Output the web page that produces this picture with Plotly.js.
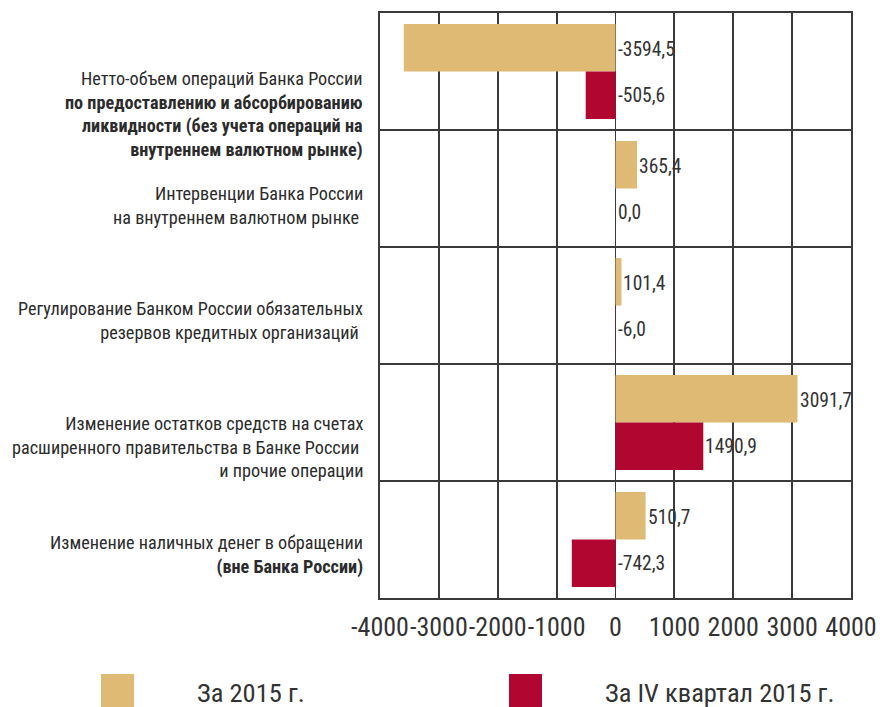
<!DOCTYPE html>
<html>
<head>
<meta charset="utf-8">
<script src="https://cdn.plot.ly/plotly-3.0.1.min.js"></script>
<style>
  body { margin: 0; background: #fff; }
  #chart { width: 880px; height: 707px; }
</style>
</head>
<body>
<div id="chart"></div>
<script>
// category labels (bold parts as in the original)
const categories = [
    'Нетто-объем операций Банка России<br><b>по предоставлению и абсорбированию</b><br><b>ликвидности (без учета операций на</b><br><b>внутреннем валютном рынке)</b>',
    'Интервенции Банка России<br>на внутреннем валютном рынке ',
    'Регулирование Банком России обязательных<br>резервов кредитных организаций ',
    'Изменение остатков средств на счетах<br>расширенного правительства в Банке России <br>и прочие операции',
    'Изменение наличных денег в обращении<br><b>(вне Банка России)</b>'
];
const values2015 = [-3594.5, 365.4, 101.4, 3091.7, 510.7];
const valuesQ4 = [-505.6, 0.0, -6.0, 1490.9, -742.3];
const seriesNames = ['За 2015 г.', 'За IV квартал 2015 г.'];
const xTicks = [-4000, -3000, -2000, -1000, 0, 1000, 2000, 3000, 4000];

const colors = ['#DEBA75', '#B00630'];
const fontFamily = '"Roboto Condensed", "Liberation Sans", sans-serif';
const lineColor = '#3a3a3a';

// plot box in pixels, used to place the legend and labels
const W = 880, H = 707;
const mL = 380, mR = 29, mT = 13, mB = 109;
const plotW = W - mL - mR, plotH = H - mT - mB;
function px(x) { return (x - mL) / plotW; }
function py(y) { return (H - mB - y) / plotH; }

const bargap = 0.19;
const half = (1 - bargap) / 4; // centre offset of each bar in a group

function fmt(v) {
    return v.toFixed(1).replace('.', ',');
}

var traces = [values2015, valuesQ4].map((vals, k) => ({
    type: 'bar',
    orientation: 'h',
    y: categories,
    x: vals,
    name: seriesNames[k],
    marker: { color: colors[k], line: { width: 0 } },
    hoverinfo: 'x',
    showlegend: false
}));

var annotations = [];

// category labels, shifted a bit below the row centre like the original
const labelShift = [-43, -17, -15, -24, -15];
categories.forEach((c, i) => {
    annotations.push({
        xref: 'paper', yref: 'y',
        x: 0, y: i,
        xanchor: 'right', yanchor: 'middle',
        xshift: -15, yshift: labelShift[i],
        align: 'right',
        text: c,
        showarrow: false,
        font: { family: fontFamily, size: 18.2, color: '#2b2b2b' }
    });
});

// value labels, always starting at the zero line or at the bar end
[values2015, valuesQ4].forEach((vals, k) => {
    vals.forEach((v, i) => {
        annotations.push({
            xref: 'x', yref: 'y',
            x: Math.max(v, 0),
            y: i + (k === 0 ? -half : half),
            xanchor: 'left', yanchor: 'middle',
            yshift: k === 0 ? -2 : 0,
            text: fmt(v),
            showarrow: false,
            font: { family: fontFamily, size: 19.5, color: '#333' }
        });
    });
});

// legend drawn by hand: big squares and large text under the plot
const legendX = [101, 509];
const legendTextX = [195, 603];
var shapes = [];
seriesNames.forEach((name, k) => {
    shapes.push({
        type: 'rect', xref: 'paper', yref: 'paper',
        x0: px(legendX[k]), x1: px(legendX[k] + 33),
        y0: py(674), y1: py(712),
        fillcolor: colors[k], line: { width: 0 }
    });
    annotations.push({
        xref: 'paper', yref: 'paper',
        x: px(legendTextX[k]), y: py(692),
        xanchor: 'left', yanchor: 'middle',
        text: name,
        showarrow: false,
        font: { family: fontFamily, size: 26.5, color: '#333' }
    });
});

var layout = {
    width: W, height: H,
    margin: { l: mL, r: mR, t: mT, b: mB, pad: 0 },
    paper_bgcolor: '#fff',
    plot_bgcolor: '#fff',
    barmode: 'group',
    bargap: bargap,
    bargroupgap: 0,
    showlegend: false,
    font: { family: fontFamily, color: '#333' },
    xaxis: {
        range: [-4000, 4000],
        tickvals: xTicks,
        ticktext: xTicks.map(String),
        tickangle: 0,
        tickfont: { family: fontFamily, size: 26, color: '#333' },
        ticks: '',
        ticklabelstandoff: 5,
        showgrid: true, gridcolor: lineColor, gridwidth: 2,
        zeroline: true, zerolinecolor: lineColor, zerolinewidth: 1,
        showline: true, mirror: true, linecolor: lineColor, linewidth: 2,
        fixedrange: true
    },
    yaxis: {
        type: 'category',
        range: [categories.length - 0.5, -0.5],
        autorange: false,
        tickson: 'boundaries',
        showticklabels: false,
        ticks: '',
        showgrid: true, gridcolor: lineColor, gridwidth: 2,
        showline: true, mirror: true, linecolor: lineColor, linewidth: 2,
        fixedrange: true
    },
    annotations: annotations,
    shapes: shapes
};

Plotly.newPlot('chart', traces, layout, { displayModeBar: false, staticPlot: true });
</script>
</body>
</html>
